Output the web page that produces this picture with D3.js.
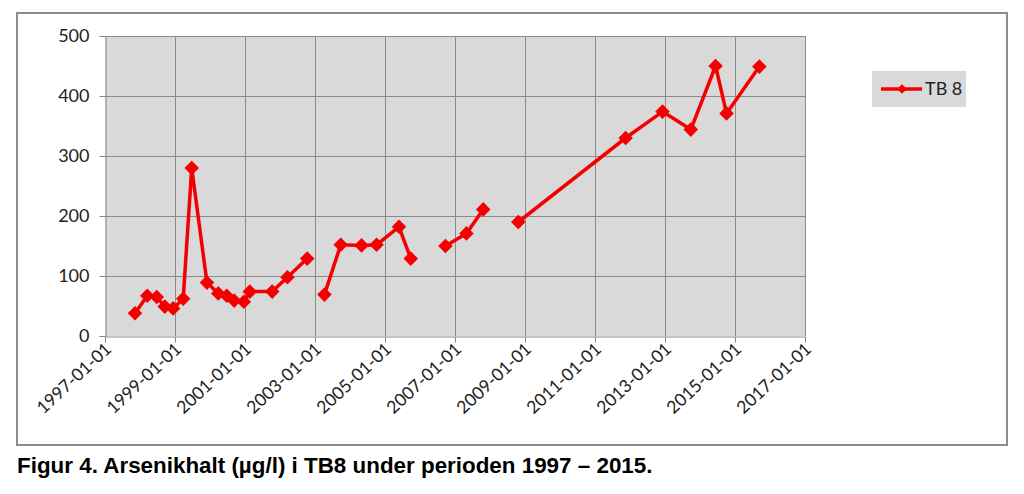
<!DOCTYPE html>
<html>
<head>
<meta charset="utf-8">
<script src="https://cdn.jsdelivr.net/npm/d3@7"></script>
<style>
  html, body { margin: 0; padding: 0; background: #fff; }
  svg { display: block; }
</style>
</head>
<body>
<svg id="chart" width="1024" height="494"></svg>
<script>
// ---- data ----
const seriesName = "TB 8";
const dates = [
  "1997-11-10","1998-03-18","1998-06-25","1998-09-17","1998-12-13","1999-03-28",
  "1999-06-25","1999-12-01","2000-03-28","2000-06-25","2000-09-10","2000-12-20",
  "2001-02-20","2001-10-12","2002-03-20","2002-10-12","2003-01-01",
  "2003-04-10","2003-09-27","2004-05-01","2004-10-05","2005-05-27","2005-09-27","2006-03-01",
  "2006-09-24","2007-05-01","2007-10-23","2008-05-01",
  "2008-10-23","2011-11-17","2012-12-06","2013-09-27","2014-06-13","2014-10-05","2015-09-13"
];
const values = [
  38, 67, 65, 49, 46, 62,
  280, 89, 71, 67, 59, 57,
  74, 74, 98, 129, null,
  69, 152, 151, 152, 182, 129, null,
  150, 171, 211, null,
  190, 330, 374, 344, 450, 371, 449
];
const yTicks = [0, 100, 200, 300, 400, 500];
const xTickLabels = ["1997-01-01","1999-01-01","2001-01-01","2003-01-01","2005-01-01",
  "2007-01-01","2009-01-01","2011-01-01","2013-01-01","2015-01-01","2017-01-01"];
const caption = "Figur 4. Arsenikhalt (µg/l) i TB8 under perioden 1997 – 2015.";

// ---- layout ----
const parse = d3.timeParse("%Y-%m-%d");
const pts = dates.map((d, i) => ({ date: parse(d), value: values[i] }));
const tickDates = xTickLabels.map(parse);

const plot = { left: 105, right: 805, top: 36, bottom: 336 };
const svg = d3.select("#chart");
const labelFont = "Lato, 'Open Sans', sans-serif";

// outer frame
svg.append("rect").attr("x", 17).attr("y", 13).attr("width", 990).attr("height", 432)
  .attr("fill", "#fff").attr("stroke", "#8c8c8c").attr("stroke-width", 2);

const x = d3.scaleTime().domain([tickDates[0], tickDates[tickDates.length - 1]])
  .range([plot.left, plot.right]);
const y = d3.scaleLinear().domain([0, 500]).range([plot.bottom, plot.top]);

// plot background
svg.append("rect").attr("x", plot.left).attr("y", plot.top)
  .attr("width", plot.right - plot.left).attr("height", plot.bottom - plot.top)
  .attr("fill", "#d9d9d9");

// gridlines
const grid = svg.append("g").attr("stroke", "#8a8a8a").attr("stroke-width", 1);
grid.selectAll(".hy").data(yTicks.slice(1)).join("line")
  .attr("x1", plot.left).attr("x2", plot.right)
  .attr("y1", d => Math.round(y(d)) + 0.5).attr("y2", d => Math.round(y(d)) + 0.5);
grid.selectAll(".vx").data(tickDates.slice(1)).join("line")
  .attr("x1", d => Math.round(x(d)) + 0.5).attr("x2", d => Math.round(x(d)) + 0.5)
  .attr("y1", plot.top).attr("y2", plot.bottom);

// axes
const yAxis = d3.axisLeft(y).tickValues(yTicks).tickSize(6).tickPadding(10);
const gy = svg.append("g").attr("transform", `translate(${plot.left + 0.5},0)`).call(yAxis);
gy.select(".domain").attr("stroke", "#8a8a8a");
gy.selectAll(".tick line").attr("stroke", "#8a8a8a");
gy.selectAll(".tick text").attr("font-family", labelFont)
  .attr("font-size", 18).attr("fill", "#222");

const xAxis = d3.axisBottom(x).tickValues(tickDates).tickSize(6)
  .tickFormat((d, i) => xTickLabels[i]);
const gx = svg.append("g").attr("transform", `translate(0,${plot.bottom + 0.5})`).call(xAxis);
gx.select(".domain").attr("stroke", "#8a8a8a");
gx.selectAll(".tick line").attr("stroke", "#8a8a8a");
gx.selectAll(".tick text")
  .attr("font-family", labelFont).attr("font-size", 17.5).attr("fill", "#222")
  .attr("text-anchor", "end").attr("dy", null).attr("y", 0).attr("x", 0)
  .attr("transform", "translate(7,14) rotate(-43)");

// line
const line = d3.line().defined(d => d.value != null)
  .x(d => x(d.date)).y(d => y(d.value));
svg.append("path").datum(pts).attr("d", line)
  .attr("fill", "none").attr("stroke", "#f50000").attr("stroke-width", 3.5)
  .attr("stroke-linejoin", "round");

// markers
const diamond = d3.symbol().type(d3.symbolDiamond2).size(135);
svg.append("g").selectAll("path").data(pts.filter(d => d.value != null)).join("path")
  .attr("d", diamond)
  .attr("transform", d => `translate(${x(d.date)},${y(d.value)})`)
  .attr("fill", "#f50000");

// legend
const lg = svg.append("g");
lg.append("rect").attr("x", 872).attr("y", 71).attr("width", 94).attr("height", 36).attr("fill", "#d9d9d9");
lg.append("line").attr("x1", 881).attr("x2", 922).attr("y1", 89).attr("y2", 89)
  .attr("stroke", "#f50000").attr("stroke-width", 3.5);
lg.append("path").attr("d", d3.symbol().type(d3.symbolDiamond2).size(60)())
  .attr("transform", "translate(902,89)").attr("fill", "#f50000");
lg.append("text").attr("x", 925).attr("y", 95).text(seriesName)
  .attr("font-family", labelFont).attr("font-size", 18).attr("fill", "#222");

// caption
svg.append("text").attr("x", 17).attr("y", 473).text(caption)
  .attr("font-family", "'Liberation Sans', Arial, sans-serif").attr("font-weight", "bold")
  .attr("font-size", 22.4).attr("fill", "#000");
</script>
</body>
</html>
